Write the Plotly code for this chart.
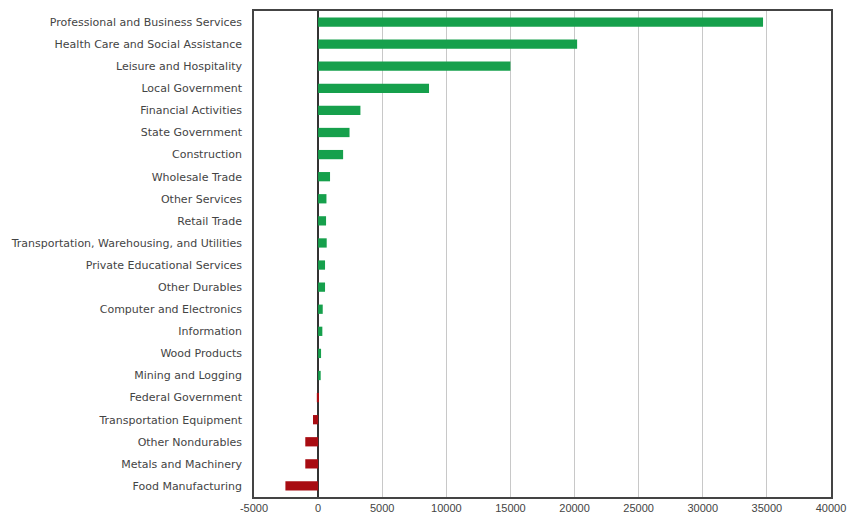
import plotly.graph_objects as go

categories = [
    "Professional and Business Services",
    "Health Care and Social Assistance",
    "Leisure and Hospitality",
    "Local Government",
    "Financial Activities",
    "State Government",
    "Construction",
    "Wholesale Trade",
    "Other Services",
    "Retail Trade",
    "Transportation, Warehousing, and Utilities",
    "Private Educational Services",
    "Other Durables",
    "Computer and Electronics",
    "Information",
    "Wood Products",
    "Mining and Logging",
    "Federal Government",
    "Transportation Equipment",
    "Other Nondurables",
    "Metals and Machinery",
    "Food Manufacturing",
]
values = [34700, 20200, 15000, 8650, 3300, 2450, 1950, 930, 650, 620, 670, 540, 540, 360, 330, 230, 200,
          -100, -400, -1000, -1000, -2550]

x_ticks = [-5000, 0, 5000, 10000, 15000, 20000, 25000, 30000, 35000, 40000]

colors = ["#16a04c" if v >= 0 else "#a80c12" for v in values]

fig = go.Figure(go.Bar(
    x=values, y=categories, orientation="h",
    marker=dict(color=colors, line=dict(width=0)),
))

fig.update_layout(
    width=855, height=523,
    margin=dict(l=254, r=16, t=9, b=17),
    paper_bgcolor="white", plot_bgcolor="white",
    bargap=0.58,
    showlegend=False,
    font=dict(family="DejaVu Sans, Verdana, sans-serif", size=11, color="#444444"),
)
fig.update_xaxes(
    range=[-5000, 40000], tickvals=x_ticks, ticktext=[str(t) for t in x_ticks],
    showgrid=True, gridcolor="#c8c8c8", gridwidth=1,
    zeroline=True, zerolinecolor="#333333", zerolinewidth=1.5,
    showline=True, linecolor="#444444", linewidth=1.5, mirror=True,
    ticks="", ticklabelstandoff=0,
    tickfont=dict(family="Liberation Sans, Arial, sans-serif", size=11, color="#444444"),
)
fig.update_yaxes(
    autorange="reversed", showgrid=False,
    showline=True, linecolor="#444444", linewidth=1.5, mirror=True,
    ticks="", ticklen=0, ticklabelstandoff=8,
    tickfont=dict(family="DejaVu Sans, Verdana, sans-serif", size=11, color="#444444"),
)

fig.write_html(
    "out.html",
    config={"displayModeBar": False},
    post_script="document.body.style.margin='0';document.body.style.overflow='hidden';",
)
